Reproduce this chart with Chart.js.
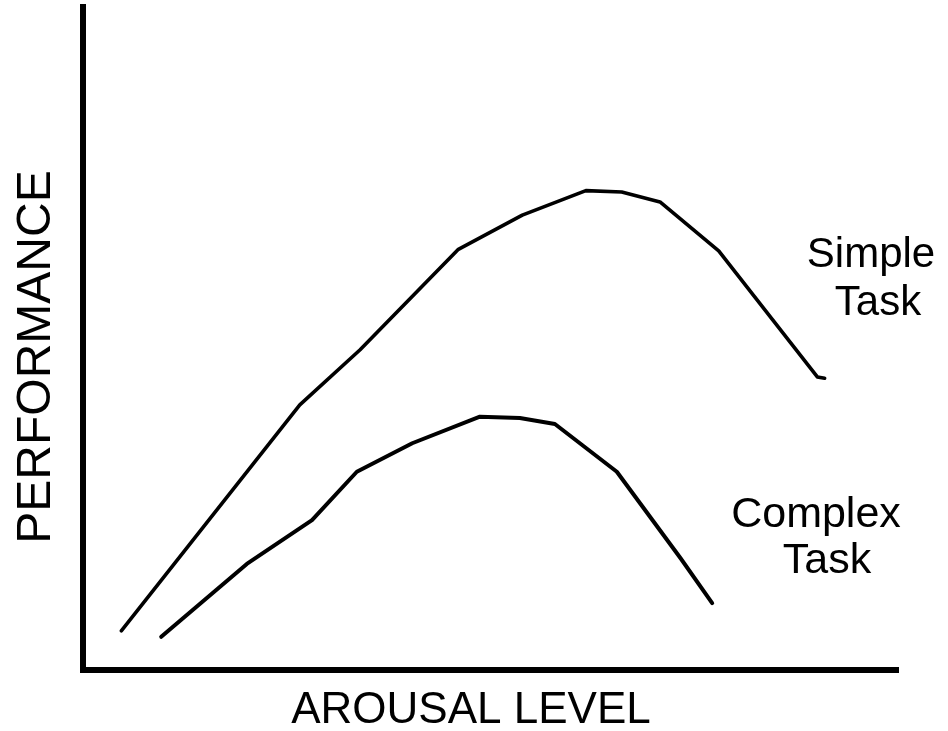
<!DOCTYPE html>
<html>
<head>
<meta charset="utf-8">
<script src="https://cdn.jsdelivr.net/npm/chart.js@4/dist/chart.umd.min.js"></script>
<style>
  html, body { margin: 0; padding: 0; background: #fff; }
  #wrap { width: 948px; height: 731px; }
</style>
</head>
<body>
<div id="wrap"><canvas id="c" width="948" height="731"></canvas></div>
<script>
// Arousal level (x, 0-100) and performance (y, 0-100)
const simpleArousal    = [4.7, 26.6, 34.0, 46.0, 53.9, 61.7, 66.1, 70.8, 78.0, 90.1, 91.0];
const simplePerformance = [5.9, 40.0, 48.3, 63.4, 68.6, 72.3, 72.1, 70.6, 63.2, 44.2, 44.0];
const complexArousal    = [9.6, 20.1, 28.1, 33.6, 40.4, 48.7, 53.6, 57.9, 65.5, 73.3, 77.2];
const complexPerformance = [5.0, 16.0, 22.6, 29.9, 34.2, 38.2, 38.0, 37.1, 29.9, 16.9, 10.1];

const xTitle = 'AROUSAL LEVEL';
const yTitle = 'PERFORMANCE';
const simpleLabel = ['Simple', 'Task'];
const complexLabel = ['Complex', 'Task'];

const toPts = (xs, ys) => xs.map((x, i) => ({ x: x, y: ys[i] }));
const FONT = '"Liberation Sans", Arial, Helvetica, sans-serif';

const textPlugin = {
  id: 'labels',
  afterDraw(chart) {
    const ctx = chart.ctx;
    ctx.save();
    ctx.fillStyle = '#000';
    ctx.textAlign = 'center';
    ctx.textBaseline = 'alphabetic';
    // y title
    ctx.save();
    ctx.translate(50, 357);
    ctx.rotate(-Math.PI / 2);
    ctx.font = '48px ' + FONT;
    ctx.fillText(yTitle, 0, 0);
    ctx.restore();
    // x title
    ctx.font = '44px ' + FONT;
    ctx.fillText(xTitle, 471, 723);
    // series labels
    ctx.font = '42px ' + FONT;
    ctx.fillText(simpleLabel[0], 871, 267);
    ctx.fillText(simpleLabel[1], 878, 315);
    ctx.font = '43px ' + FONT;
    ctx.fillText(complexLabel[0], 816, 527);
    ctx.fillText(complexLabel[1], 827, 573);
    ctx.restore();
  }
};

new Chart(document.getElementById('c'), {
  type: 'line',
  data: {
    datasets: [
      {
        label: 'Simple Task',
        data: toPts(simpleArousal, simplePerformance),
        borderColor: '#000',
        borderWidth: 3.6,
        pointRadius: 0,
        borderCapStyle: 'round',
        borderJoinStyle: 'round',
        tension: 0,
        fill: false
      },
      {
        label: 'Complex Task',
        data: toPts(complexArousal, complexPerformance),
        borderColor: '#000',
        borderWidth: 4,
        pointRadius: 0,
        borderCapStyle: 'round',
        borderJoinStyle: 'round',
        tension: 0,
        fill: false
      }
    ]
  },
  options: {
    responsive: false,
    animation: false,
    events: [],
    layout: { padding: { left: 83, right: 50, top: 7, bottom: 61 } },
    plugins: { legend: { display: false }, tooltip: { enabled: false } },
    scales: {
      x: {
        type: 'linear', min: 0, max: 100,
        grid: { display: false, drawTicks: false },
        ticks: { display: false },
        border: { display: true, color: '#000', width: 6 }
      },
      y: {
        type: 'linear', min: 0, max: 100,
        grid: { display: false, drawTicks: false },
        ticks: { display: false },
        border: { display: true, color: '#000', width: 6 }
      }
    }
  },
  plugins: [textPlugin]
});
</script>
</body>
</html>
